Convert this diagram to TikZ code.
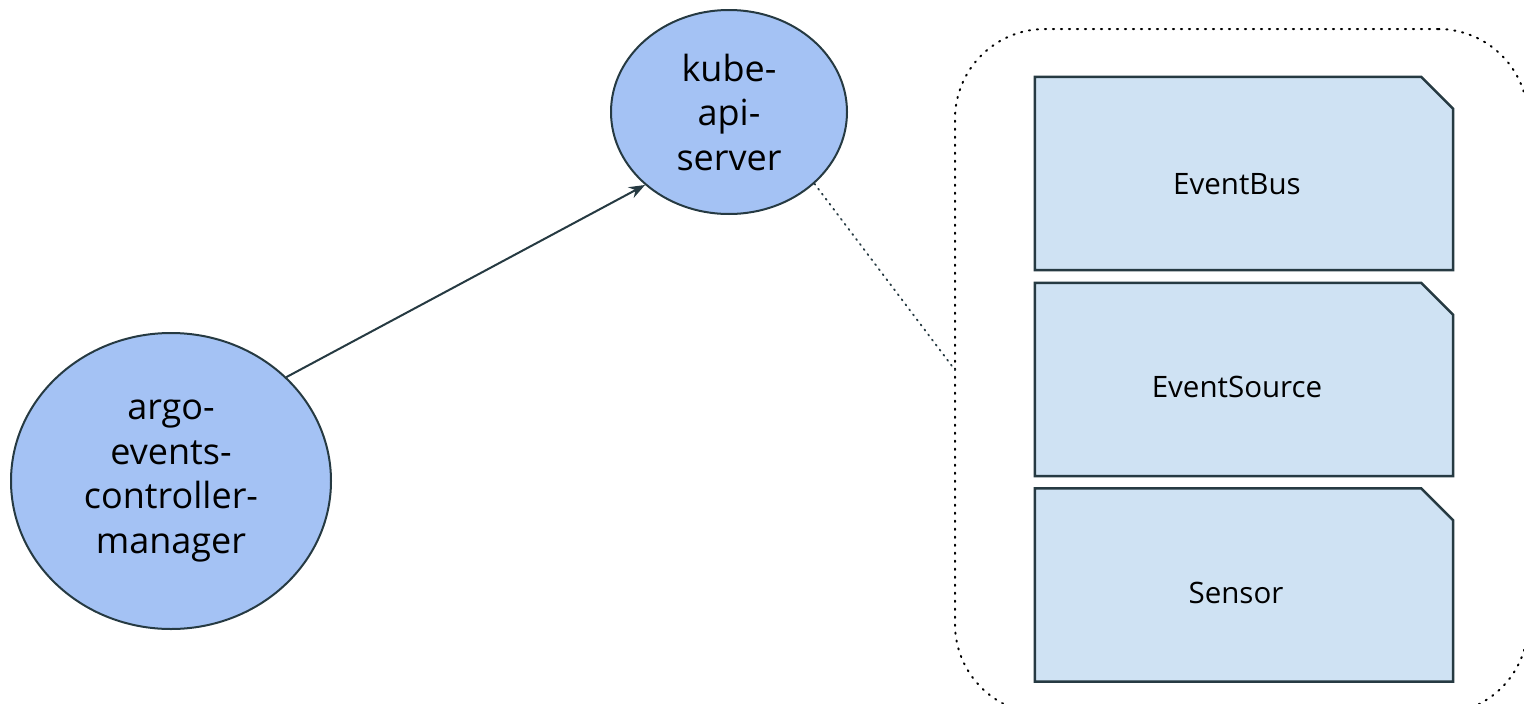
\documentclass[tikz,border=0pt]{standalone}
\usepackage{fontspec}
\setmainfont{Open Sans}
\usetikzlibrary{shapes.geometric,arrows.meta}
\definecolor{ellfill}{HTML}{A4C2F4}
\definecolor{docfill}{HTML}{CFE2F3}
\definecolor{darkline}{HTML}{263A42}
\tikzset{
  ellnode/.style={ellipse, draw=darkline, fill=ellfill, line width=2pt, inner sep=0pt,
    align=center, font=\fontsize{36}{44.5}\selectfont},
  docbox/.style={rectangle, minimum width=418pt, minimum height=193pt, inner sep=0pt},
  docshape/.style={draw=darkline, fill=docfill, line width=2.5pt, line join=miter},
  doclabel/.style={font=\fontsize{29.5}{34}\selectfont, inner sep=0pt},
  groupbox/.style={rectangle, rounded corners=90pt, draw=black, line width=2pt,
    dash pattern=on 1.2pt off 6.8pt, line cap=round, minimum width=573pt, minimum height=685pt, inner sep=0pt},
  arrowline/.style={draw=darkline, line width=2pt, -{Stealth[length=16pt,width=12pt]}},
  dotline/.style={draw=darkline, line width=1.8pt, dash pattern=on 1.2pt off 5.1pt, line cap=round}
}
\newcommand{\docpath}[1]{%
  \path[docshape] (#1.north west) -- ([xshift=-32pt]#1.north east) -- ([yshift=-32pt]#1.north east)
    -- (#1.south east) -- (#1.south west) -- cycle;}
\begin{document}
\begin{tikzpicture}[x=1pt,y=-1pt]
\useasboundingbox (0,0) rectangle (1524,704);
\begin{scope}
\clip (0,0) rectangle (1524,704);
\node[groupbox] (grp) at (1241.5,371.5) {};
\end{scope}
\node[docbox] (bus) at (1244,173.5) {};
\node[docbox] (src) at (1244,379.5) {};
\node[docbox] (sen) at (1244,585) {};
\docpath{bus}
\docpath{src}
\docpath{sen}
\node[doclabel] (busl) at (1237,184) {EventBus};
\node[doclabel] (srcl) at (1237,387) {EventSource};
\node[doclabel] (senl) at (1236,593) {Sensor};
\node[ellnode, minimum width=236pt, minimum height=204pt] (kube) at (729,112) {kube-\\api-\\server};
\node[ellnode, minimum width=320pt, minimum height=296pt] (argo) at (171,481) {argo-\\events-\\controller-\\manager};
\coordinate (grpin) at (955,370);
\draw[arrowline] (argo.42) -- (kube.221);
\draw[dotline] (kube.-40) -- (grpin);
\end{tikzpicture}
\end{document}
